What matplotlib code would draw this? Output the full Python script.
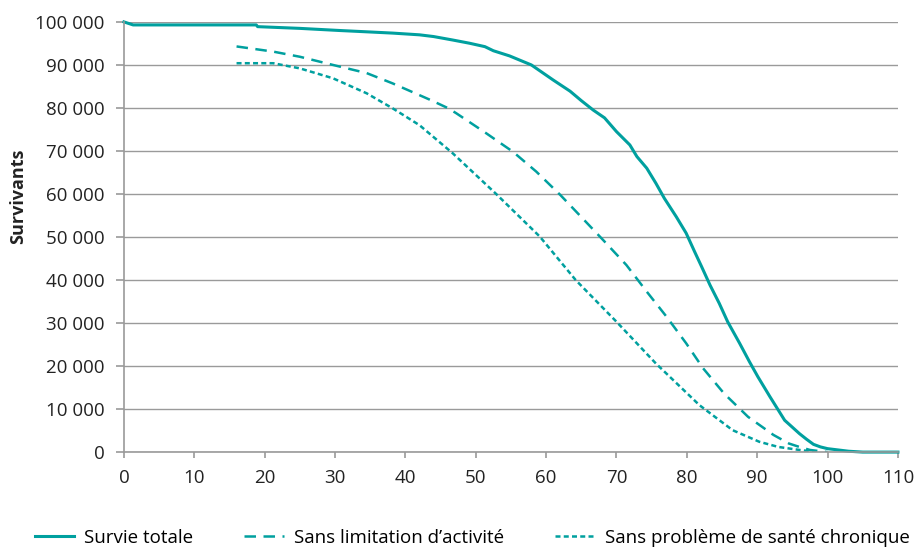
import numpy as np
import matplotlib.pyplot as plt
from matplotlib.ticker import FuncFormatter, MultipleLocator

# Survie totale
age_tot = [0, 1.3, 18.8, 19.0, 25, 30.7, 34.5, 38.2, 42, 44, 46.7, 49.1, 51.3, 52.5,
           54.8, 57.9, 61, 63.4, 65, 66.7, 68.3, 70, 71.9, 72.9, 74.3, 75.6,
           76.8, 78.5, 79.9, 81.1, 82.1, 83.3, 84.6, 85.8, 87.5, 88.9, 90.1, 91.8,
           93.9, 96, 97, 98, 99, 100, 101, 102, 103, 104, 105, 110]
surv_tot = [100000, 99300, 99300, 98900, 98500, 98000, 97700, 97400, 97000, 96600,
            95800, 95050, 94250, 93300, 92100, 90000, 86500, 83900, 81700, 79500,
            77700, 74500, 71400, 68700, 66000, 62500, 59000, 54700,
            50900, 46600, 43100, 38800, 34600, 30300, 25300, 21000, 17500, 12900,
            7400, 4300, 3000, 1800, 1200, 800, 600, 400, 200, 100, 0, 0]

# Sans limitation d'activité
age_lim = [16, 21.2, 25, 29.7, 34.5, 38.2, 43.5, 46, 47.2, 51.5, 55.3, 58.6, 62,
           65.2, 68.1, 71.4, 74.3, 77.1, 79.9, 82.3, 85.3, 88.7, 92.3, 94.5, 96,
           97.5, 100]
surv_lim = [94300, 93100, 91900, 90000, 88100, 85700, 81900, 80000, 78800, 74100,
            69800, 65200, 59800, 54300, 49300, 43500, 37300, 31500, 25300, 19500,
            13600, 8200, 4000, 2000, 1200, 500, 0]

# Sans problème de santé chronique
age_chr = [16, 21.2, 25, 29.7, 34.5, 38.2, 42, 46.7, 52.9, 59.1, 64.2, 70, 75.6,
           81.8, 86.5, 90.3, 93, 96, 98.5]
surv_chr = [90400, 90400, 89200, 86900, 83400, 79900, 76000, 69500, 60000, 50100,
            40000, 30300, 20600, 10900, 5100, 2400, 1200, 500, 0]

teal = '#00a09f'
grey = '#9a9a9a'
txt = '#222222'
plt.rcParams['font.family'] = ['Open Sans', 'DejaVu Sans']

fig = plt.figure(figsize=(9.17, 5.48), dpi=100)
ax = fig.add_axes([0.1352, 0.175, 0.844, 0.785])

ax.plot(age_tot, surv_tot, color=teal, lw=2.2, solid_joinstyle='round',
        clip_on=False, label='Survie totale')
ax.plot(age_lim, surv_lim, color=teal, lw=1.8, dashes=(4.6, 3),
        label='Sans limitation d\u2019activité')
ax.plot(age_chr, surv_chr, color=teal, lw=1.8, dashes=(2.0, 1.3),
        label='Sans problème de santé chronique')

ax.set_xlim(0, 110)
ax.set_ylim(0, 100000)
ax.xaxis.set_major_locator(MultipleLocator(10))
ax.yaxis.set_major_locator(MultipleLocator(10000))
ax.yaxis.set_major_formatter(FuncFormatter(lambda v, p: f'{int(v):,}'.replace(',', ' ')))

ax.grid(axis='y', color=grey, lw=1.0)
ax.set_axisbelow(True)
for s in ['top', 'right']:
    ax.spines[s].set_visible(False)
for s in ['left', 'bottom']:
    ax.spines[s].set_color(grey)
    ax.spines[s].set_linewidth(1.2)
ax.tick_params(axis='both', colors=grey, width=1.2, labelsize=13.5,
               labelcolor=txt, direction='out')
ax.tick_params(axis='y', length=6, pad=8)
ax.tick_params(axis='x', length=4.5, pad=8)

ax.set_ylabel('Survivants', fontsize=13, fontweight='bold', color=txt)
ax.yaxis.set_label_coords(-0.125, 0.595)

ax.legend(loc='center', bbox_to_anchor=(472 / 917, 1 - 538 / 548),
          bbox_transform=fig.transFigure, ncol=3, frameon=False,
          fontsize=13.5, handlelength=2.13, columnspacing=2.7, handletextpad=0.53,
          borderpad=0, borderaxespad=0)

fig.savefig('out.png', dpi=100)
